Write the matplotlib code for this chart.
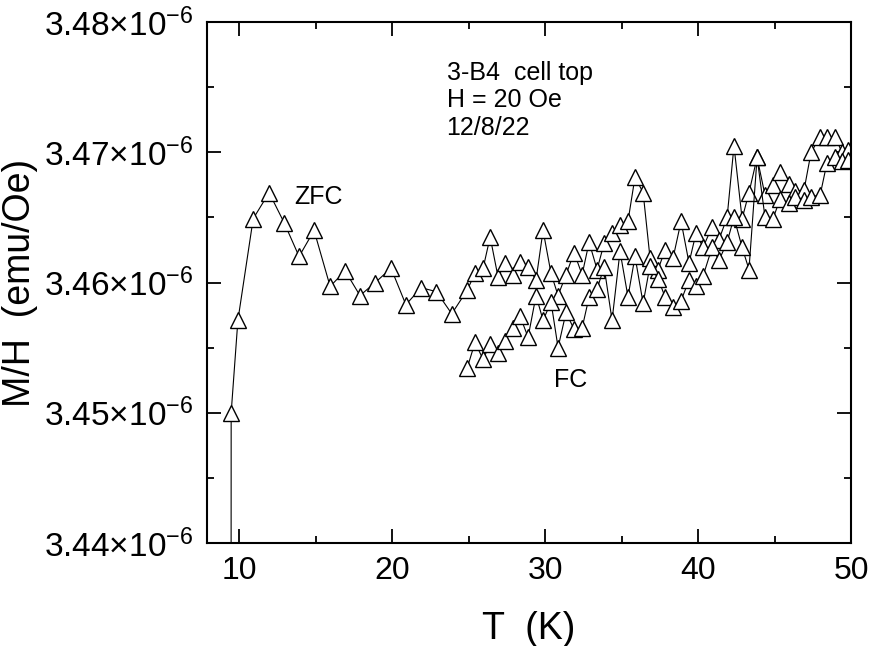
import matplotlib
matplotlib.use("Agg")
import matplotlib.pyplot as plt
from matplotlib.ticker import MultipleLocator, FuncFormatter

plt.rcParams['font.family'] = ['Liberation Sans', 'DejaVu Sans']
plt.rcParams['mathtext.fontset'] = 'custom'
plt.rcParams['mathtext.rm'] = 'Liberation Sans'
plt.rcParams['mathtext.it'] = 'Liberation Sans:italic'
plt.rcParams['mathtext.bf'] = 'Liberation Sans:bold'

# ZFC branch: temperature (K) and M/H (units of 1e-6 emu/Oe)
T_zfc = [9.47, 9.48, 9.92, 10.92, 11.96, 12.94, 13.92, 14.90, 15.95, 16.93, 17.90,
         18.90, 19.93, 20.90, 21.90, 22.90, 23.90, 24.90, 25.42, 25.95, 26.41,
         26.93, 27.39, 27.91, 28.37, 28.89, 29.41, 29.87, 30.39, 30.85, 31.37,
         31.90, 32.42, 32.88, 33.40, 33.86, 34.38, 34.90, 35.42, 35.88, 36.41,
         36.86, 37.39, 37.84, 38.37, 38.89, 39.41, 39.87, 40.33, 40.92, 41.37,
         41.90, 42.35, 42.88, 43.33, 43.86, 44.38, 44.90, 45.36, 45.95, 46.34,
         46.93, 47.39, 47.98, 48.43, 48.95, 49.41, 49.80]
M_zfc = [3.4200, 3.4500, 3.4571, 3.4649, 3.4669, 3.4646, 3.4620, 3.4640, 3.4597, 3.4609,
         3.4590, 3.4600, 3.4611, 3.4583, 3.4596, 3.4593, 3.4576, 3.4594, 3.4607, 3.4611,
         3.4635, 3.4604, 3.4615, 3.4606, 3.4616, 3.4612, 3.4602, 3.4640, 3.4607, 3.4590,
         3.4606, 3.4623, 3.4606, 3.4631, 3.4610, 3.4630, 3.4638, 3.4644, 3.4647, 3.4681,
         3.4669, 3.4619, 3.4610, 3.4625, 3.4619, 3.4647, 3.4615, 3.4638, 3.4627, 3.4643,
         3.4633, 3.4650, 3.4705, 3.4649, 3.4669, 3.4696, 3.4667, 3.4675, 3.4685, 3.4676,
         3.4670, 3.4671, 3.4700, 3.4712, 3.4712, 3.4712, 3.4700, 3.4702]

# FC branch
T_fc = [24.90, 25.42, 25.95, 26.41, 26.93, 27.39, 27.91, 28.37, 28.89, 29.41,
        29.87, 30.39, 30.85, 31.37, 31.90, 32.42, 32.88, 33.40, 33.86, 34.38,
        34.90, 35.42, 35.88, 36.41, 36.86, 37.39, 37.84, 38.37, 38.89, 39.41,
        39.87, 40.33, 40.92, 41.37, 41.90, 42.35, 42.88, 43.33, 43.86, 44.38,
        44.90, 45.36, 45.95, 46.34, 46.93, 47.39, 47.98, 48.43, 48.95, 49.41, 49.80]
M_fc = [3.4534, 3.4554, 3.4541, 3.4553, 3.4546, 3.4555, 3.4565, 3.4574, 3.4558, 3.4590,
        3.4571, 3.4585, 3.4550, 3.4577, 3.4564, 3.4565, 3.4589, 3.4595, 3.4612, 3.4571,
        3.4624, 3.4589, 3.4620, 3.4584, 3.4613, 3.4603, 3.4589, 3.4581, 3.4586, 3.4602,
        3.4597, 3.4605, 3.4627, 3.4617, 3.4631, 3.4650, 3.4627, 3.4610, 3.4696, 3.4650,
        3.4649, 3.4664, 3.4661, 3.4666, 3.4663, 3.4666, 3.4667, 3.4692, 3.4696, 3.4693, 3.4694]

x_ticks = [10, 20, 30, 40, 50]
y_ticks = [3.44, 3.45, 3.46, 3.47, 3.48]

fig = plt.figure(figsize=(8.69, 6.46), dpi=100)
ax = fig.add_axes([0.2382, 0.1594, 0.7411, 0.8065])

style = dict(color='black', lw=0.8, marker='^', markersize=11,
             markerfacecolor='white', markeredgecolor='black', markeredgewidth=1.0)
ax.plot(T_zfc, [v * 1e-6 for v in M_zfc], **style)
ax.plot(T_fc, [v * 1e-6 for v in M_fc], **style)

ax.set_xlim(7.9, 50)
ax.set_ylim(3.44e-6, 3.48e-6)
ax.set_xticks(x_ticks)
ax.set_yticks([v * 1e-6 for v in y_ticks])
ax.xaxis.set_minor_locator(MultipleLocator(5))
ax.yaxis.set_minor_locator(MultipleLocator(0.005e-6))

def yfmt(v, pos):
    return r"%.2f×10$^{\mathregular{-6}}$" % (v * 1e6)
ax.yaxis.set_major_formatter(FuncFormatter(yfmt))

ax.tick_params(which='both', direction='in', top=True, right=True, width=1.3)
ax.tick_params(which='major', length=10, pad=8)
ax.tick_params(axis='y', which='major', labelsize=24, pad=10)
ax.tick_params(axis='x', which='major', labelsize=23, pad=9)
ax.tick_params(which='minor', length=5)
for s in ax.spines.values():
    s.set_linewidth(1.5)

ax.set_xlabel("T  (K)", fontsize=27, labelpad=18)
ax.set_ylabel("M/H  (emu/Oe)", fontsize=27)
ax.yaxis.set_label_coords(-0.262, 0.5)

ax.text(0.372, 0.925, "3-B4  cell top\nH = 20 Oe\n12/8/22", transform=ax.transAxes,
        fontsize=18, va='top', ha='left', linespacing=1.17)
ax.text(13.6, 3.4666e-6, "ZFC", fontsize=18, ha='left', va='center')
ax.text(30.6, 3.4534e-6, "FC", fontsize=18, ha='left', va='top')

fig.savefig("out.png", dpi=100)
